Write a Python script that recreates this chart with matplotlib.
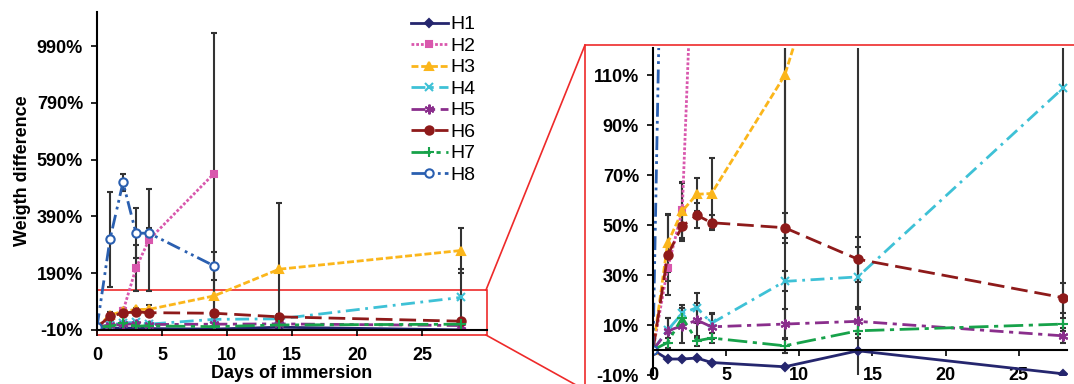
import numpy as np
import matplotlib.pyplot as plt
from matplotlib.patches import Rectangle
from matplotlib.lines import Line2D

plt.rcParams['font.family'] = ['Liberation Sans', 'DejaVu Sans']

# days of immersion
days = [0, 1, 2, 3, 4, 9, 14, 28]
days_short = [0, 1, 2, 3, 4, 9]

# weight difference (%) and error bars
h1 = [0, -3.6, -3.6, -3.2, -5, -6.7, -0.3, -9.5]
h1_err = [0, 0, 0, 0, 0, 0, 0, 0]
h2 = [0, 32.7, 56, 208, 308, 541]
h2_err = [0, 5, 11, 80, 180, 496]
h3 = [0, 42.8, 55.7, 62.4, 62.7, 110, 204, 270]
h3_err = [0, 11.5, 11.5, 6.6, 14.3, 110, 233, 79]
h4 = [0, 8, 14.7, 17, 10.7, 27.5, 29.3, 104.8]
h4_err = [0, 5, 3.5, 6, 4, 4, 12, 100]
h5 = [0, 7.7, 9.7, 12, 9.3, 10.4, 11.5, 5.7]
h5_err = [0, 5, 7, 7, 5, 6, 5, 3]
h6 = [0, 38, 49.7, 54, 51, 49, 36.4, 21]
h6_err = [0, 16, 6, 5, 3, 6, 9, 6]
h7 = [0, 3, 13, 3.7, 4.8, 1.7, 7.7, 10.4]
h7_err = [0, 2, 4, 2, 2, 3, 3, 2.6]
h8 = [0, 310, 510, 331, 331, 216]
h8_err = [0, 167, 30, 88, 18, 50]

series = [
    ('H1', days, h1, h1_err, '#25266e', '-', 'D', 4, True),
    ('H2', days_short, h2, h2_err, '#d957ad', (0, (1, 0.7)), 's', 5, True),
    ('H3', days, h3, h3_err, '#fbb61b', (0, (2.5, 1)), '^', 6, True),
    ('H4', days, h4, h4_err, '#3ec1d6', (0, (5, 2, 1, 2)), 'x', 6, True),
    ('H5', days, h5, h5_err, '#8a2e8c', (0, (5, 2, 1.5, 2)), (6, 2, 0), 7, True),
    ('H6', days, h6, h6_err, '#8e1a1a', (0, (6, 2.5)), 'o', 6, True),
    ('H7', days, h7, h7_err, '#17a24a', (0, (7, 2, 1.5, 2)), '+', 7, True),
    ('H8', days_short, h8, h8_err, '#2a5fb0', (0, (5, 2, 1, 1.5, 1, 1.5)), 'o', 6, False),
]

W, H = 1074, 384
fig = plt.figure(figsize=(W / 100, H / 100), dpi=100)


def px(x0, y0, x1, y1):
    return [x0 / W, 1 - y1 / H, (x1 - x0) / W, (y1 - y0) / H]


ax1 = fig.add_axes(px(97, 12, 487, 330))
ax2 = fig.add_axes(px(653, 48, 1067, 375))

legend_lines = []
for ax in (ax1, ax2):
    for name, x, y, e, c, ls, m, ms, filled in series:
        cont = ax.errorbar(x, y, yerr=e, color=c, ecolor='#333333', elinewidth=1.5,
                           capsize=2.5, capthick=1.3, linestyle=ls, linewidth=2,
                           marker=m, markersize=ms, markeredgewidth=1.5,
                           markerfacecolor=c if filled else 'white', markeredgecolor=c)
        if ax is ax1:
            legend_lines.append(cont.lines[0])
    ax.spines['top'].set_visible(False)
    ax.spines['right'].set_visible(False)
    ax.spines['left'].set_linewidth(1.5)
    ax.spines['bottom'].set_linewidth(1.5)
    ax.tick_params(labelsize=13, width=1.2, length=4)
    ax.tick_params(axis='y', pad=6)

ax1.set_xlim(0, 30)
ax1.set_ylim(-10, 1110)
ax1.set_xticks([0, 5, 10, 15, 20, 25])
ax1.set_yticks([-10, 190, 390, 590, 790, 990])
ax1.set_yticklabels(['-10%', '190%', '390%', '590%', '790%', '990%'], fontweight='bold')
ax1.set_xticklabels(['0', '5', '10', '15', '20', '25'], fontweight='bold')
ax1.tick_params(axis='x', pad=8)
ax1.set_xlabel('Days of immersion', fontsize=13, fontweight='bold', labelpad=1)
ax1.set_ylabel('Weigth difference', fontsize=13, fontweight='bold', labelpad=4)

ax2.set_xlim(0, 28.3)
ax2.set_ylim(-10, 121)
ax2.spines['bottom'].set_position(('data', 0))
ax2.set_xticks([0, 5, 10, 15, 20, 25])
ax2.set_xticklabels(['0', '5', '10', '15', '20', '25'], fontweight='bold')
ax2.tick_params(axis='x', pad=8)
ax2.set_yticks([-10, 10, 30, 50, 70, 90, 110])
ax2.set_yticklabels(['-10%', '10%', '30%', '50%', '70%', '90%', '110%'], fontweight='bold')

# zoom box on the left plot and frame around the right plot
red = '#ee2a2a'
ax1.add_patch(Rectangle((0, -26), 30, 156, fill=False, edgecolor=red,
                        linewidth=1.2, clip_on=False))
fig.add_artist(Rectangle((585 / W, -0.1), 0.5, 1 - 45 / H + 0.1, fill=False,
                         edgecolor=red, linewidth=1.2, transform=fig.transFigure))
fig.add_artist(Line2D([486 / W, 585 / W], [1 - 290 / H, 1 - 45 / H], color=red, linewidth=1.2))
fig.add_artist(Line2D([486 / W, 585 / W], [1 - 335 / H, 1 - 390 / H], color=red, linewidth=1.2))

fig.legend(legend_lines, [s[0] for s in series], loc='upper left',
           bbox_to_anchor=(403 / W, 1 - 8 / H), frameon=False, fontsize=14,
           handlelength=1.9, handletextpad=0.15, labelspacing=0.2, borderaxespad=0)

fig.savefig('out.png', dpi=100)
